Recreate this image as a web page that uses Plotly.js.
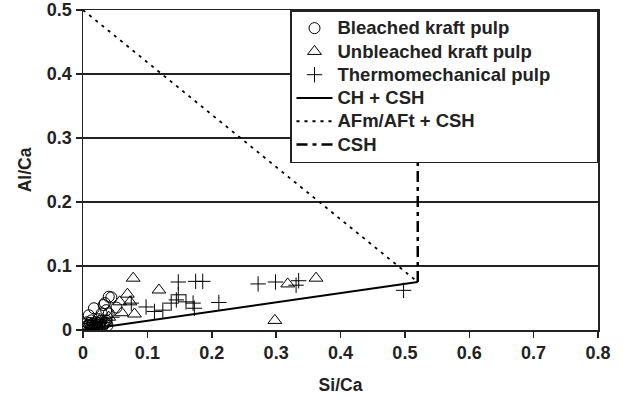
<!DOCTYPE html>
<html>
<head>
<meta charset="utf-8">
<script src="https://cdn.plot.ly/plotly-3.0.1.min.js"></script>
<style>html,body{margin:0;padding:0;background:#fff;}#chart{width:623px;height:398px;}</style>
</head>
<body>
<div id="chart"></div>
<script>
// Bleached kraft pulp (circles)
const bleachedX = [0.003,0.005,0.008,0.010,0.012,0.015,0.018,0.020,0.022,0.025,0.028,0.030,0.033,0.006,0.013,0.036,0.038,0.004,0.017,0.024,0.009,0.017,0.029,0.032,0.036,0.040,0.044,0.034,0.040,0.052,0.007,0.011,0.016,0.021,0.027,0.031,0.014,0.019,0.026,0.035];
const bleachedY = [0.002,0.005,0.003,0.008,0.004,0.010,0.006,0.012,0.003,0.008,0.014,0.005,0.010,0.012,0.015,0.015,0.007,0.009,0.001,0.017,0.023,0.034,0.026,0.039,0.031,0.052,0.051,0.042,0.026,0.035,0.007,0.011,0.004,0.006,0.011,0.008,0.007,0.009,0.005,0.011];
// Unbleached kraft pulp (triangles)
const unbleachedX = [0.078,0.118,0.069,0.057,0.073,0.060,0.080,0.318,0.362,0.298,0.015,0.025,0.040,0.010];
const unbleachedY = [0.081,0.0625,0.056,0.044,0.044,0.027,0.025,0.072,0.081,0.015,0.005,0.015,0.020,0.002];
// Thermomechanical pulp (plus)
const thermoX = [0.075,0.098,0.111,0.124,0.137,0.145,0.148,0.148,0.160,0.171,0.173,0.175,0.186,0.211,0.272,0.299,0.331,0.335,0.498,0.030,0.045,0.020];
const thermoY = [0.042,0.036,0.029,0.031,0.042,0.047,0.055,0.075,0.044,0.042,0.034,0.076,0.076,0.043,0.072,0.075,0.070,0.077,0.062,0.012,0.020,0.008];
// Boundary lines
const chX = [0, 0.52];
const chY = [0, 0.075];
const afmX = [0, 0.52];
const afmY = [0.5, 0.075];
const cshX = [0.52, 0.52];
const cshY = [0.075, 0.5];
// Tick labels
const xTickVals = [0, 0.1, 0.2, 0.3, 0.4, 0.5, 0.6, 0.7, 0.8];
const xTickText = ['0', '0.1', '0.2', '0.3', '0.4', '0.5', '0.6', '0.7', '0.8'];
const yTickVals = [0, 0.1, 0.2, 0.3, 0.4, 0.5];
const yTickText = ['0', '0.1', '0.2', '0.3', '0.4', '0.5'];
const seriesNames = ['Bleached kraft pulp', 'Unbleached kraft pulp', 'Thermomechanical pulp', 'CH + CSH', 'AFm/AFt + CSH', 'CSH'];

const FONT = 'Liberation Sans, Arial, sans-serif';
const b = s => '<b>' + s + '</b>';
const lg = (s, pad) => '<span style="font-size:18.5px"><b>' + s + (pad ? '&nbsp;'.repeat(pad) : '') + '</b></span>';
const traces = [
  {x: bleachedX, y: bleachedY, mode: 'markers', type: 'scatter', name: lg(seriesNames[0]),
   marker: {symbol: 'circle-open', size: 11, color: '#000', line: {width: 1, color: '#000'}}},
  {x: unbleachedX, y: unbleachedY, mode: 'markers', type: 'scatter', name: lg(seriesNames[1]),
   marker: {symbol: 'triangle-up-open', size: 12, color: '#000', line: {width: 1, color: '#000'}}},
  {x: thermoX, y: thermoY, mode: 'markers', type: 'scatter', name: lg(seriesNames[2], 8),
   marker: {symbol: 'cross-thin-open', size: 11, color: '#000', line: {width: 1, color: '#000'}}},
  {x: chX, y: chY, mode: 'lines', type: 'scatter', name: lg(seriesNames[3]),
   line: {color: '#000', width: 2}},
  {x: afmX, y: afmY, mode: 'lines', type: 'scatter', name: lg(seriesNames[4]),
   line: {color: '#000', width: 1.8, dash: '3px,5px'}},
  {x: cshX, y: cshY, mode: 'lines', type: 'scatter', name: lg(seriesNames[5]),
   line: {color: '#000', width: 2.5, dash: '11px,5px,4px,5px'}}
];

const layout = {
  width: 623, height: 398,
  margin: {l: 83, r: 25, t: 10, b: 68},
  paper_bgcolor: '#fff', plot_bgcolor: '#fff',
  font: {family: FONT, color: '#222', size: 17},
  showlegend: true,
  legend: {x: 1, y: 1, xanchor: 'right', yanchor: 'top', bgcolor: '#fff',
    bordercolor: '#222', borderwidth: 1.5, itemwidth: 36,
    font: {family: FONT, size: 15.6, color: '#222'}, tracegroupgap: 0},
  xaxis: {range: [0, 0.8], tickmode: 'array', tickvals: xTickVals, ticktext: xTickText.map(b),
    showgrid: false, zeroline: false,
    showline: true, linecolor: '#222', linewidth: 1.5, mirror: true,
    ticks: 'outside', ticklen: 6, tickwidth: 1.5, tickcolor: '#222',
    tickfont: {family: FONT, size: 18, color: '#222'},
    title: {text: b('Si/Ca'), font: {family: FONT, size: 17.5, color: '#222'}, standoff: 16}},
  yaxis: {range: [0, 0.5], tickmode: 'array', tickvals: yTickVals, ticktext: yTickText.map(b),
    showgrid: true, gridcolor: '#222', gridwidth: 1.5, zeroline: false,
    showline: true, linecolor: '#222', linewidth: 1.5, mirror: true,
    ticks: 'outside', ticklen: 6, tickwidth: 1.5, tickcolor: '#222',
    tickfont: {family: FONT, size: 18, color: '#222'},
    title: {text: b('Al/Ca'), font: {family: FONT, size: 17.5, color: '#222'}, standoff: 10}}
};

Plotly.newPlot('chart', traces, layout, {displayModeBar: false, staticPlot: true});
</script>
</body>
</html>
